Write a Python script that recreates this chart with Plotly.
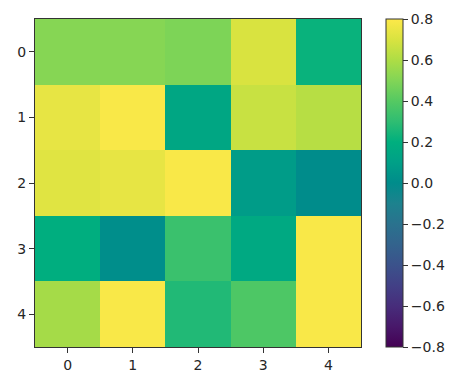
import plotly.graph_objects as go

x_labels = [0, 1, 2, 3, 4]
y_labels = [0, 1, 2, 3, 4]
row0 = [0.51, 0.51, 0.49, 0.70, 0.22]
row1 = [0.74, 0.79, 0.14, 0.66, 0.62]
row2 = [0.72, 0.74, 0.79, 0.08, 0.00]
row3 = [0.19, 0.01, 0.33, 0.16, 0.79]
row4 = [0.58, 0.79, 0.27, 0.38, 0.79]
values = [row0, row1, row2, row3, row4]
cbar_ticks = [-0.8, -0.6, -0.4, -0.2, 0.0, 0.2, 0.4, 0.6, 0.8]

# viridis, as it appears in the reference image
viridis_hex = ["#440154", "#48186a", "#472d7b", "#424086", "#3b528b", "#33638d",
               "#2a728e", "#1d828e", "#008c8b", "#00a087", "#00af7e", "#2fbd72",
               "#55c962", "#82d556", "#aedd45", "#d9e340", "#fde949"]
viridis = [[i / (len(viridis_hex) - 1), c] for i, c in enumerate(viridis_hex)]

font = dict(family="DejaVu Sans", size=14, color="#262626")

fig = go.Figure(go.Heatmap(
    z=values, x=x_labels, y=y_labels,
    colorscale=viridis, zmin=-0.8, zmax=0.8,
    colorbar=dict(
        x=1.077, xanchor="left", y=0.5, yanchor="middle",
        len=1, lenmode="fraction", thickness=17,
        xpad=0, ypad=0,
        outlinewidth=1, outlinecolor="#333",
        ticks="outside", ticklen=5, tickwidth=1, tickcolor="#333",
        tickvals=cbar_ticks, tickformat=".1f",
        tickfont=font,
    ),
))

# page body has an 8px margin: shift the figure to compensate
fig.update_layout(
    width=457, height=371,
    margin=dict(l=27, r=104, t=11, b=32, autoexpand=False),
    paper_bgcolor="white", plot_bgcolor="white",
    font=font,
)
fig.update_xaxes(
    range=[-0.5, 4.5], tickvals=x_labels, ticks="outside", ticklen=5,
    tickcolor="#333", showline=True, linecolor="#333", linewidth=1,
    mirror=True, showgrid=False, zeroline=False, tickfont=font,
)
fig.update_yaxes(
    range=[4.5, -0.5], tickvals=y_labels, ticks="outside", ticklen=5,
    tickcolor="#333", showline=True, linecolor="#333", linewidth=1,
    mirror=True, showgrid=False, zeroline=False, tickfont=font,
)

fig.write_html("out.html")
